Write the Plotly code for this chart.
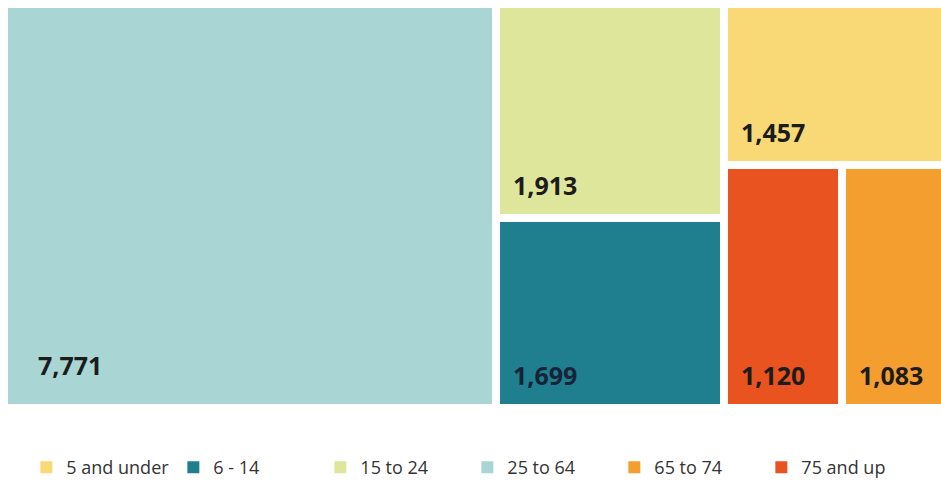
import plotly.graph_objects as go

# Population by age group
groups = ["5 and under", "6 - 14", "15 to 24", "25 to 64", "65 to 74", "75 and up"]
counts = [1457, 1699, 1913, 7771, 1083, 1120]
colors = ["#f8d976", "#1f7f8e", "#dee69c", "#a9d6d4", "#f59e30", "#e8531f"]
label_colors = ["#1c1c1c", "#162338", "#1c1c1c", "#1c1c1c", "#1c1c1c", "#1c1c1c"]

value = dict(zip(groups, counts))

# Tile arrangement: columns left to right; a nested list inside a column is a row.
columns = [["25 to 64"], ["15 to 24", "6 - 14"], ["5 and under", ["75 and up", "65 to 74"]]]

W, H = 952.0, 404.0   # drawing area in axis units (1 unit = 1 px); right side runs off the page
GAP = 8.0


def total(item):
    if isinstance(item, list):
        return sum(total(i) for i in item)
    return value[item]


rects = {}
grand = total(columns)
x = 0.0
for col in columns:
    cw = W * total(col) / grand
    ytop = H
    for cell in col:
        ch = H * total(cell) / total(col)
        if isinstance(cell, list):
            xx = x
            for name in cell:
                w = cw * value[name] / total(cell)
                rects[name] = (xx, xx + w, ytop - ch, ytop)
                xx += w
        else:
            rects[cell] = (x, x + cw, ytop - ch, ytop)
        ytop -= ch
    x += cw

fig = go.Figure()
annotations = []
for name, val, col, lc in zip(groups, counts, colors, label_colors):
    x0, x1, y0, y1 = rects[name]
    fig.add_trace(go.Bar(
        x=[(x0 + x1) / 2], y=[y1 - y0 - GAP], base=[y0 + GAP / 2],
        width=[x1 - x0 - GAP], name=name,
        marker=dict(color=col, line=dict(width=0)),
        hoverinfo="name+text", hovertext=[f"{val:,}"],
    ))
    big = (x1 - x0) > 300
    annotations.append(dict(
        x=x0 + GAP / 2 + (28 if big else 11), y=y0 + GAP / 2 + (20 if big else 10),
        xref="x", yref="y", xanchor="left", yanchor="bottom",
        text=f"<b>{val:,}</b>", showarrow=False,
        font=dict(family="Open Sans", size=25, color=lc),
    ))

fig.update_layout(
    width=941, height=486,
    margin=dict(l=0, r=0, t=0, b=74),
    paper_bgcolor="white", plot_bgcolor="white",
    barmode="overlay", bargap=0,
    xaxis=dict(range=[-4, 937], visible=False, fixedrange=True),
    yaxis=dict(range=[-4, 408], visible=False, fixedrange=True),
    showlegend=True,
    legend=dict(orientation="h", x=0.028, xanchor="left", y=-0.136, yanchor="middle",
                font=dict(family="Open Sans", size=18, color="#333333"),
                traceorder="normal", itemwidth=30,
                entrywidth=102, entrywidthmode="pixels"),
    annotations=annotations,
)

fig.write_html("out.html")
